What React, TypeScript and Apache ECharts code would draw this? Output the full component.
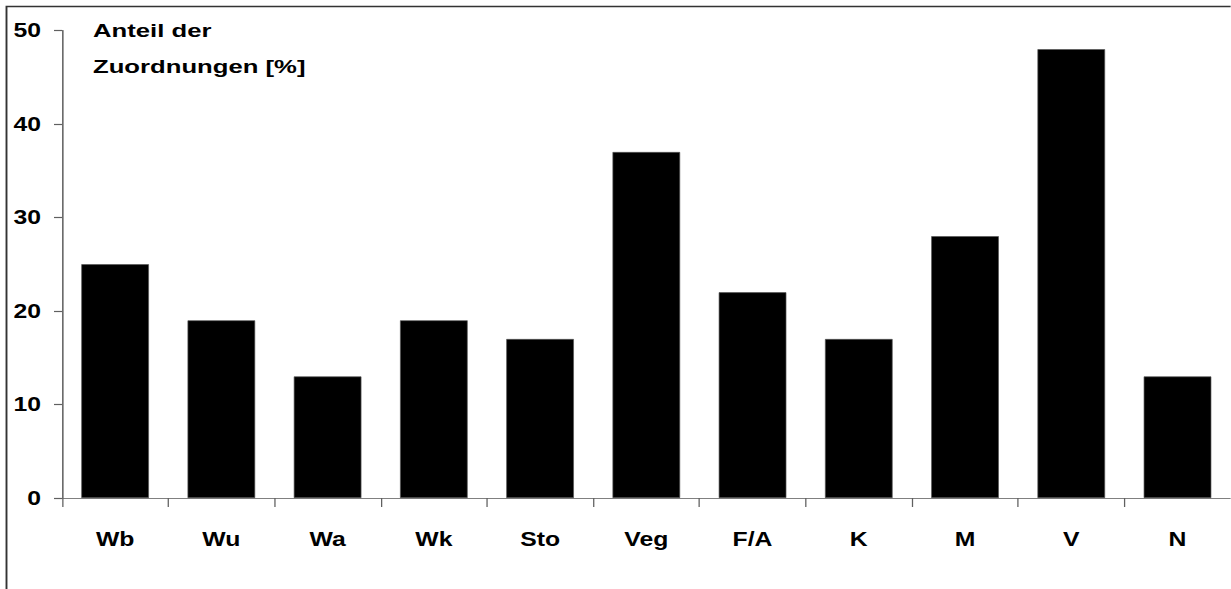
import React, { useEffect, useRef } from "react";
import * as echarts from "echarts";

const categories = ["Wb", "Wu", "Wa", "Wk", "Sto", "Veg", "F/A", "K", "M", "V", "N"];
const values = [25, 19, 13, 19, 17, 37, 22, 17, 28, 48, 13];
const yTicks = { min: 0, max: 50, interval: 10 };
const titleText = "Anteil der\nZuordnungen [%]";

// The original chart is horizontally stretched; draw at a narrower width and stretch it.
const STRETCH = 1.27;
const W = 1231 / STRETCH;

export default function App() {
  const ref = useRef<HTMLDivElement>(null);
  useEffect(() => {
    if (!ref.current) return;
    const chart = echarts.init(ref.current, undefined, { renderer: "svg" });
    const font = "'Liberation Sans', Arial, sans-serif";
    chart.setOption({
      animation: false,
      backgroundColor: "#ffffff",
      graphic: [
        {
          type: "rect",
          shape: { x: 6.5 / STRETCH, y: 6.5, width: 1400, height: 800 },
          style: { fill: "none", stroke: "#333333", lineWidth: 1.5 },
          silent: true,
        },
        {
          type: "text",
          x: 93 / STRETCH,
          y: 13,
          scaleX: 1.065,
          style: {
            text: titleText,
            fontFamily: font,
            fontWeight: "bold",
            fontSize: 19,
            lineHeight: 36,
            fill: "#000",
            verticalAlign: "top",
          },
        },
      ],
      grid: { left: 62 / STRETCH, top: 30.5, width: 1176 / STRETCH, height: 467.5, containLabel: false },
      xAxis: {
        type: "category",
        data: categories,
        axisLine: { show: true, lineStyle: { color: "#808080", width: 1.2 } },
        axisTick: { show: true, length: 9, alignWithLabel: false, lineStyle: { color: "#606060", width: 1 } },
        axisLabel: { margin: 31, fontFamily: font, fontWeight: "bold", fontSize: 19.5, color: "#000" },
        splitLine: { show: false },
      },
      yAxis: {
        type: "value",
        min: yTicks.min,
        max: yTicks.max,
        interval: yTicks.interval,
        axisLine: { show: true, lineStyle: { color: "#404040", width: 1 } },
        axisTick: { show: true, length: 8 / STRETCH, inside: false, lineStyle: { color: "#606060", width: 1.2 } },
        axisLabel: { margin: 21 / STRETCH, fontFamily: font, fontWeight: "bold", fontSize: 19.5, color: "#000" },
        splitLine: { show: false },
      },
      series: [
        {
          type: "bar",
          data: values,
          barWidth: 67.7 / STRETCH,
          itemStyle: { color: "#000000", borderColor: "#555555", borderWidth: 0.6 },
        },
      ],
    });
    return () => chart.dispose();
  }, []);
  return (
    <div
      ref={ref}
      style={{
        position: "absolute",
        left: 0,
        top: 0,
        width: W,
        height: 589,
        transform: `scaleX(${STRETCH})`,
        transformOrigin: "0 0",
      }}
    />
  );
}
